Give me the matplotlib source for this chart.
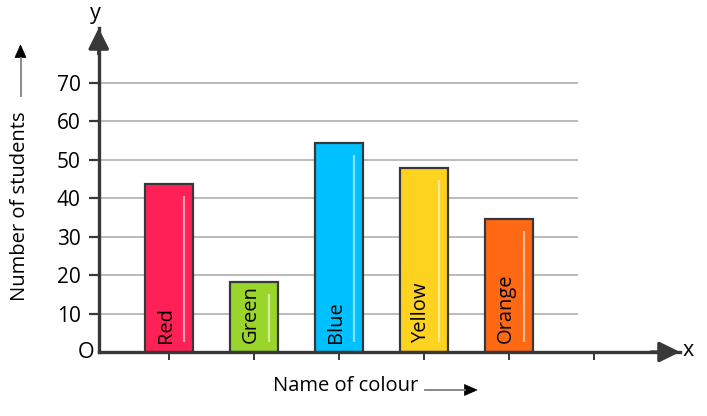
import matplotlib
matplotlib.use("Agg")
import matplotlib.pyplot as plt
from matplotlib.patches import Polygon

# données du graphique
colours = ["Red", "Green", "Blue", "Yellow", "Orange"]
students = [43.6, 18.2, 54.4, 47.8, 34.7]
bar_colors = ["#FF2156", "#9AD52B", "#00C1FF", "#FDD320", "#FF6914"]
y_ticks = [10, 20, 30, 40, 50, 60, 70]

plt.rcParams["font.family"] = ["Open Sans", "DejaVu Sans"]
dark = "#383838"
W, H = 707, 416

fig = plt.figure(figsize=(7.07, 4.16), dpi=100)
# origine à (98.7, 352) px, pointe de l'axe x à 680 px, pointe de l'axe y à 28 px
ax = fig.add_axes([98.7 / W, 64 / H, (680 - 98.7) / W, (352 - 28) / H])

pos = list(range(1, len(colours) + 2))
x_min = 1 + (98.7 - 169) / 85
x_max = 1 + (680 - 169) / 85
ax.set_xlim(x_min, x_max)
ax.set_ylim(0, 84.3)

# lignes de grille
ax.hlines(y_ticks, x_min, 1 + (578 - 169) / 85, color="#a8a8a8", lw=1.1, zorder=1)

# barres
ax.bar(pos[:5], students, width=0.555, color=bar_colors, edgecolor=dark,
       linewidth=1.6, zorder=3)

# reflets blancs et noms des couleurs
for x, v, name in zip(pos, students, colours):
    ax.plot([x + 0.175, x + 0.175], [2.6, v - 3.1], color="white", alpha=0.55,
            lw=1.6, zorder=4, solid_capstyle="butt")
    ax.text(x - 0.035, 2.3, name, rotation=90, ha="center", va="bottom",
            fontsize=14.5, color="black", zorder=5)

# axes
for s in ["top", "right"]:
    ax.spines[s].set_visible(False)
for s in ["left", "bottom"]:
    ax.spines[s].set_color(dark)
    ax.spines[s].set_linewidth(2.4)
    ax.spines[s].set_zorder(6)

ax.set_yticks(y_ticks)
ax.set_yticklabels([str(t) for t in y_ticks])
ax.tick_params(axis="y", direction="out", length=7, width=1.6, color=dark,
               pad=6, labelsize=15, labelcolor="black")
ax.set_xticks(pos)
ax.set_xticklabels([])
ax.tick_params(axis="x", direction="out", length=6, width=1.4, color=dark)

# pointes de flèches des axes
head = "-|>,head_length=1.25,head_width=0.62"
ax.annotate("", xy=(1, 0), xytext=(0.95, 0), xycoords="axes fraction",
            arrowprops=dict(arrowstyle=head, color=dark, lw=2.4,
                            shrinkA=0, shrinkB=0))
ax.annotate("", xy=(0, 1), xytext=(0, 0.92), xycoords="axes fraction",
            arrowprops=dict(arrowstyle=head, color=dark, lw=2.4,
                            shrinkA=0, shrinkB=0))

fig.text(95 / W, 1 - 13 / H, "y", ha="center", va="center", fontsize=15.5)
fig.text(688 / W, 1 - 350 / H, "x", ha="center", va="center", fontsize=15.5)
fig.text(86 / W, 1 - 352 / H, "O", ha="center", va="center", fontsize=15.5)


def fleche(x0, y0, x1, y1):
    # trait gris puis pointe noire (coordonnées en pixels)
    L = ((x1 - x0) ** 2 + (y1 - y0) ** 2) ** 0.5
    ux, uy = (x1 - x0) / L, (y1 - y0) / L
    hl, hw = 12.5, 5.5
    bx, by = x1 - ux * hl, y1 - uy * hl
    fig.add_artist(plt.Line2D([x0 / W, bx / W], [1 - y0 / H, 1 - by / H],
                              transform=fig.transFigure, color="#808080", lw=1.3))
    pts = [(x1, y1), (bx - uy * hw, by + ux * hw), (bx + uy * hw, by - ux * hw)]
    fig.add_artist(Polygon([(px / W, 1 - py / H) for px, py in pts], closed=True,
                           transform=fig.transFigure, facecolor="black",
                           edgecolor="black", lw=0.5))


# titres des axes avec flèches
fig.text(20.5 / W, 1 - 206 / H, "Number of students", rotation=90,
         ha="center", va="center", fontsize=14.5)
fleche(20.5, 96, 20.5, 45)
fig.text(346 / W, 1 - 386 / H, "Name of colour", ha="center", va="center",
         fontsize=14.5)
fleche(425, 390, 477, 390)

fig.savefig("out.png", dpi=100)
